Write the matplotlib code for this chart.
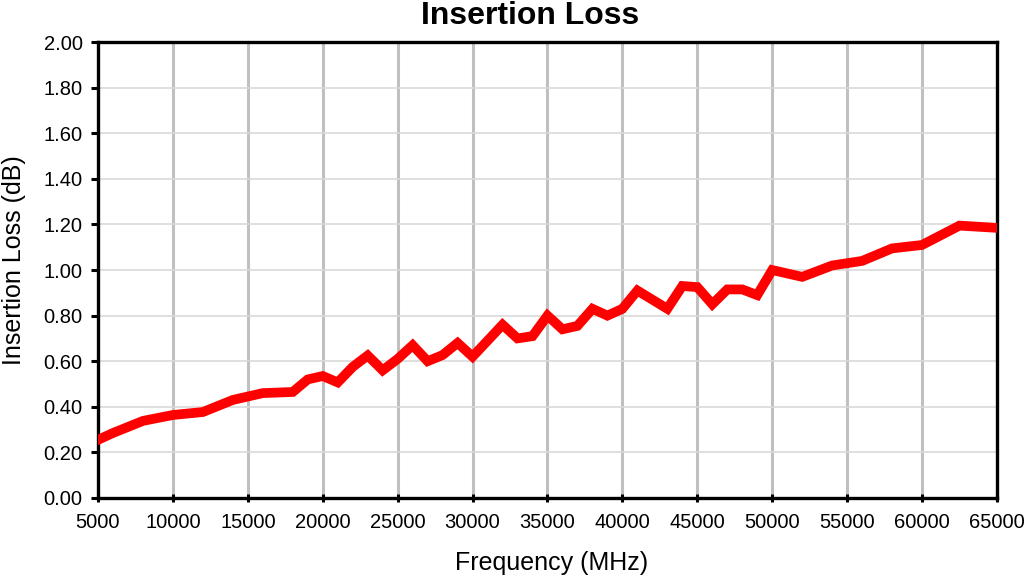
import matplotlib
matplotlib.use("Agg")
import matplotlib.pyplot as plt
import numpy as np

plt.rcParams['font.family'] = ['Liberation Sans', 'DejaVu Sans']

# Frequency (MHz) and insertion loss (dB)
freq = [5000, 6000, 8000, 10000, 12000, 14000, 16000, 18000, 19000, 20000,
        21000, 22000, 23000, 24000, 25000, 26000, 27000, 28000, 29000, 30000,
        31000, 32000, 33000, 34000, 35000, 36000, 37000, 38000, 39000, 40000,
        41000, 43000, 44000, 45000, 46000, 47000, 48000, 49000, 50000,
        52000, 54000, 56000, 58000, 60000, 62500, 65000]
loss = [0.255, 0.285, 0.338, 0.364, 0.377, 0.43, 0.46, 0.465, 0.52, 0.535,
        0.507, 0.575, 0.625, 0.56, 0.61, 0.67, 0.60, 0.627, 0.68, 0.62,
        0.69, 0.76, 0.70, 0.71, 0.80, 0.74, 0.755, 0.83, 0.80, 0.83,
        0.91, 0.83, 0.93, 0.925, 0.85, 0.915, 0.915, 0.89, 1.00,
        0.97, 1.02, 1.04, 1.095, 1.11, 1.195, 1.185]

xticks = np.arange(5000, 65001, 5000)
yticks = np.arange(0, 2.01, 0.2)

fig = plt.figure(figsize=(10.24, 5.77), dpi=100)
ax = fig.add_axes([0.0957, 0.137, 0.8779, 0.790])

ax.plot(freq, loss, color='#ff0000', lw=7, solid_joinstyle='miter', zorder=3)

ax.set_xlim(5000, 65000)
ax.set_ylim(0, 2.0)
ax.set_xticks(xticks)
ax.set_yticks(yticks)
ax.set_yticklabels([f'{v:.2f}' for v in yticks])

# gridlines: heavy grey verticals, light horizontals
for x in xticks[1:-1]:
    ax.axvline(x, color='#c0c0c0', lw=2.2, zorder=1)
for y in yticks[1:-1]:
    ax.axhline(y, color='#d9d9d9', lw=1.2, zorder=1)

for s in ax.spines.values():
    s.set_linewidth(2.4)
    s.set_color('black')
ax.tick_params(axis='both', labelsize=14.5, width=2.2, length=5)
ax.tick_params(axis='x', direction='inout', length=6, pad=8)
ax.tick_params(axis='y', direction='out', length=5, pad=6)

# titles placed in figure pixels, as in the original chart
W, H = 1024, 577
fig.text(530 / W, 1 - 16 / H, 'Insertion Loss', fontsize=23, fontweight='bold',
         ha='center', va='center')
fig.text(552 / W, 1 - 563 / H, 'Frequency (MHz)', fontsize=18,
         ha='center', va='center')
fig.text(14 / W, 1 - 260 / H, 'Insertion Loss (dB)', fontsize=18,
         ha='center', va='center', rotation=90)

fig.savefig('out.png', dpi=100)
